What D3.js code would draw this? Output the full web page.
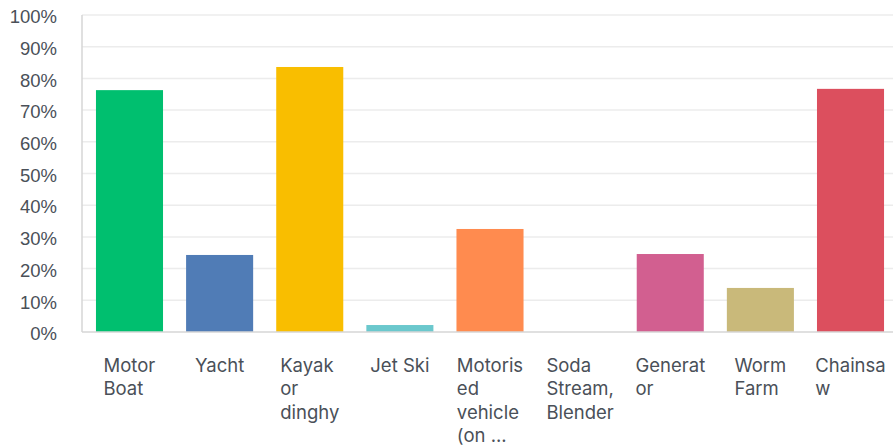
<!DOCTYPE html>
<html>
<head>
<meta charset="utf-8">
<script src="https://cdn.jsdelivr.net/npm/d3@7"></script>
<style>
  body { margin: 0; background: #fff; }
  svg { display: block; font-family: Inter, "Open Sans", sans-serif; }
</style>
</head>
<body>
<svg width="894" height="446"></svg>
<script>
// chart data
var categories = ["Motor Boat", "Yacht", "Kayak or dinghy", "Jet Ski",
  "Motorised vehicle (on ...", "Soda Stream, Blender", "Generator", "Worm Farm", "Chainsaw"];
var labelLines = [
  ["Motor", "Boat"], ["Yacht"], ["Kayak", "or", "dinghy"], ["Jet Ski"],
  ["Motoris", "ed", "vehicle", "(on ..."], ["Soda", "Stream,", "Blender"],
  ["Generat", "or"], ["Worm", "Farm"], ["Chainsa", "w"]
];
var values = [0.763, 0.243, 0.836, 0.022, 0.325, 0, 0.246, 0.139, 0.767];
var colors = ["#00bf6f", "#507cb6", "#f9be00", "#6bc8cd", "#ff8b4f",
  "#7f7f7f", "#d25f90", "#c9b97a", "#dc4f5e"];
var yTicks = [0, 0.1, 0.2, 0.3, 0.4, 0.5, 0.6, 0.7, 0.8, 0.9, 1];

var svg = d3.select("svg"),
    margin = {top: 15, right: 1, bottom: 114, left: 82},
    width = +svg.attr("width") - margin.left - margin.right,
    height = +svg.attr("height") - margin.top - margin.bottom;

var g = svg.append("g").attr("transform", "translate(" + margin.left + "," + margin.top + ")");

var x = d3.scaleBand().domain(categories).range([0, 816]).paddingInner(0.256).paddingOuter(0.155);
var y = d3.scaleLinear().domain([0, 1]).range([height, 0]);

// gridlines
g.append("g")
  .selectAll("line")
  .data(yTicks.slice(1))
  .enter().append("line")
    .attr("x1", 0).attr("x2", width)
    .attr("y1", function(d) { return y(d); })
    .attr("y2", function(d) { return y(d); })
    .style("stroke", "#ececec")
    .style("stroke-width", "1.5px");

// y axis labels
var yAxis = g.append("g")
  .call(d3.axisLeft(y).tickValues(yTicks).tickFormat(d3.format(".0%")).tickSize(0).tickPadding(25));
yAxis.select(".domain").remove();
yAxis.selectAll("text")
  .attr("dy", "0.42em")
  .style("font-size", "18.5px")
  .style("fill", "#4a5058");

// bars
g.append("g")
  .selectAll("rect")
  .data(values)
  .enter().append("rect")
    .attr("x", function(d, i) { return x(categories[i]); })
    .attr("y", function(d) { return y(d); })
    .attr("width", x.bandwidth())
    .attr("height", function(d) { return height - y(d); })
    .style("fill", function(d, i) { return colors[i]; });

// axis lines
g.append("line")
  .attr("x1", 0).attr("x2", 0).attr("y1", 0).attr("y2", height)
  .style("stroke", "#d6d6d6").style("stroke-width", "1.5px");
g.append("line")
  .attr("x1", 0).attr("x2", width).attr("y1", height).attr("y2", height)
  .style("stroke", "#d6d6d6").style("stroke-width", "1.5px");

// category labels: block of left-aligned lines, centred under the bar
var lab = g.append("g")
  .selectAll("text")
  .data(categories)
  .enter().append("text")
    .attr("y", height + 40)
    .style("font-size", "18.5px")
    .style("fill", "#4a5058");
lab.each(function(d, i) {
  var t = d3.select(this);
  var spans = t.selectAll("tspan")
    .data(labelLines[i])
    .enter().append("tspan")
      .attr("dy", function(s, j) { return j === 0 ? 0 : 23.3; })
      .text(function(s) { return s; });
  var maxW = 0;
  spans.each(function() { maxW = Math.max(maxW, this.getComputedTextLength()); });
  var left = x(d) + x.bandwidth() / 2 - maxW / 2;
  spans.attr("x", left);
});
</script>
</body>
</html>
